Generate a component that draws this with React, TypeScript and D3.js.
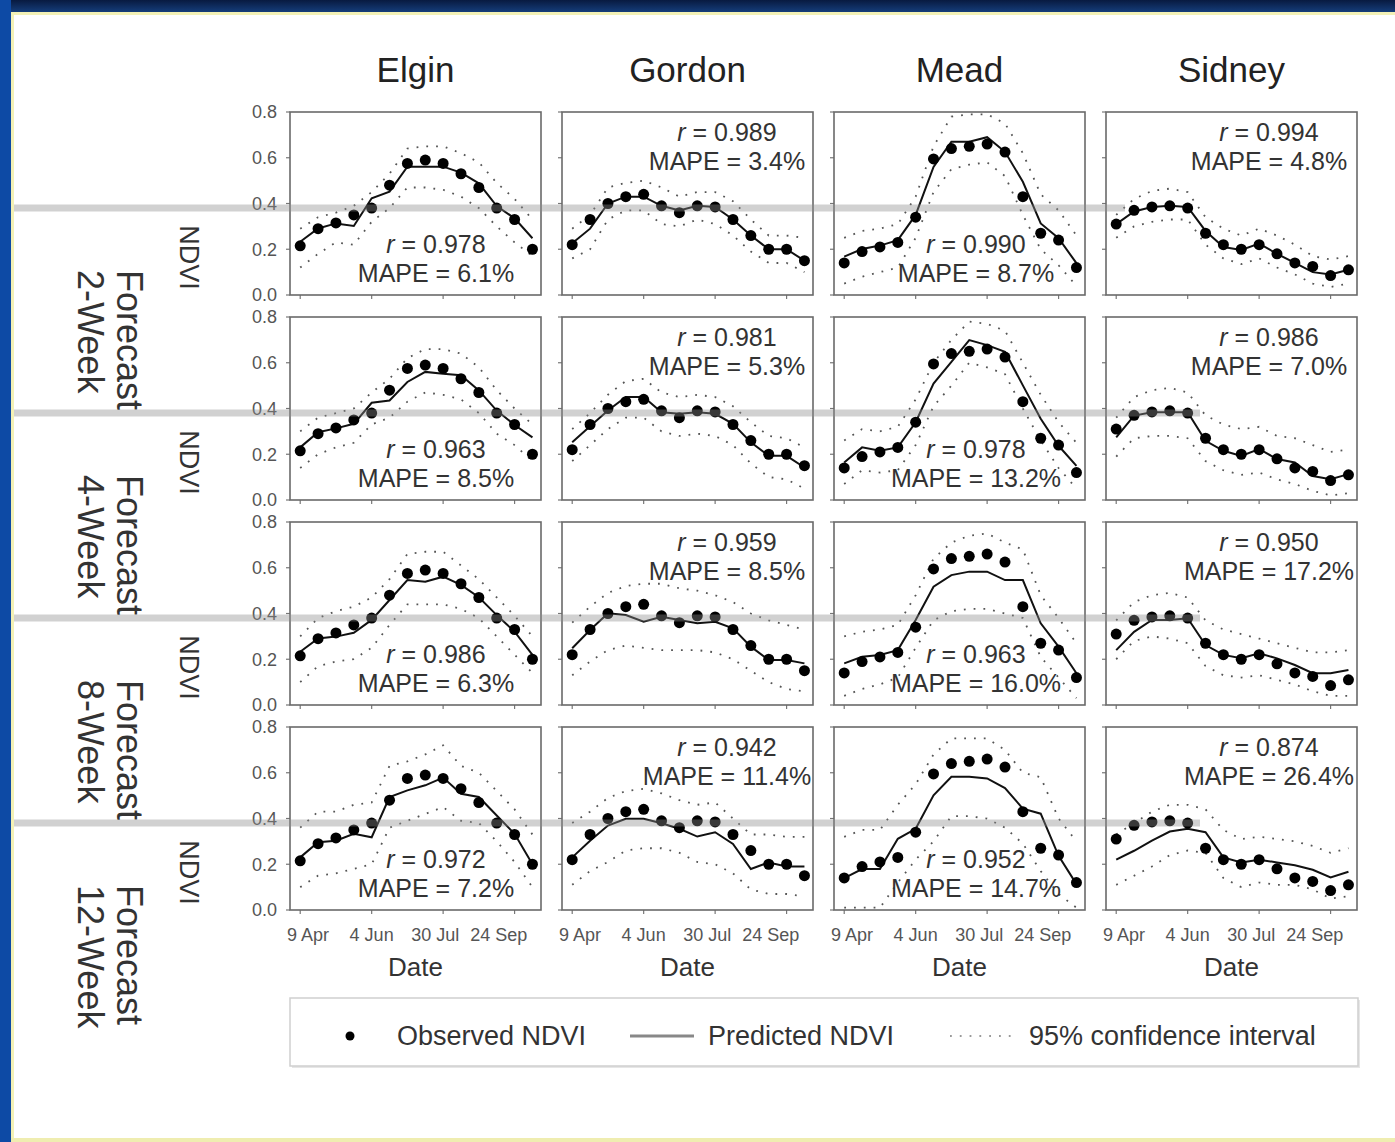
import React from "react";
import * as d3 from "d3";

// ---------- data ----------
const dateLabels = [
  "2007-04-09", "2007-04-23", "2007-05-07", "2007-05-21", "2007-06-04", "2007-06-18", "2007-07-02",
  "2007-07-16", "2007-07-30", "2007-08-13", "2007-08-27", "2007-09-10", "2007-09-24", "2007-10-08",
];
const tickDates = ["2007-04-09", "2007-06-04", "2007-07-30", "2007-09-24"];
const sites = ["Elgin", "Gordon", "Mead", "Sidney"];
const horizons = ["2-Week", "4-Week", "8-Week", "12-Week"];
const yTicks = [0, 0.2, 0.4, 0.6, 0.8];

// observed NDVI (same for every horizon)
const obsElgin = [0.215, 0.29, 0.315, 0.35, 0.38, 0.48, 0.575, 0.59, 0.575, 0.53, 0.47, 0.38, 0.33, 0.2];
const obsGordon = [0.22, 0.33, 0.4, 0.43, 0.44, 0.39, 0.36, 0.39, 0.385, 0.33, 0.26, 0.2, 0.2, 0.15];
const obsMead = [0.14, 0.19, 0.21, 0.23, 0.34, 0.595, 0.64, 0.65, 0.66, 0.625, 0.43, 0.27, 0.24, 0.12];
const obsSidney = [0.31, 0.37, 0.385, 0.39, 0.38, 0.27, 0.22, 0.2, 0.22, 0.18, 0.14, 0.125, 0.085, 0.11];

// 2-week forecast
const pred2Elgin = [0.233, 0.291, 0.313, 0.302, 0.423, 0.452, 0.561, 0.561, 0.561, 0.535, 0.488, 0.389, 0.335, 0.248];
const up2Elgin = [0.29, 0.34, 0.36, 0.39, 0.45, 0.53, 0.64, 0.65, 0.65, 0.62, 0.58, 0.49, 0.42, 0.33];
const lo2Elgin = [0.12, 0.18, 0.23, 0.22, 0.32, 0.38, 0.47, 0.47, 0.46, 0.43, 0.38, 0.3, 0.23, 0.17];
const pred2Gordon = [0.226, 0.29, 0.4, 0.43, 0.43, 0.39, 0.37, 0.39, 0.385, 0.33, 0.26, 0.2, 0.2, 0.15];
const up2Gordon = [0.29, 0.35, 0.47, 0.49, 0.5, 0.47, 0.43, 0.45, 0.45, 0.41, 0.33, 0.26, 0.26, 0.25];
const lo2Gordon = [0.16, 0.2, 0.33, 0.37, 0.37, 0.31, 0.3, 0.33, 0.31, 0.26, 0.19, 0.14, 0.14, 0.1];
const pred2Mead = [0.168, 0.201, 0.216, 0.24, 0.35, 0.56, 0.67, 0.67, 0.69, 0.626, 0.495, 0.313, 0.248, 0.139];
const up2Mead = [0.25, 0.28, 0.29, 0.31, 0.43, 0.65, 0.78, 0.79, 0.79, 0.75, 0.62, 0.44, 0.37, 0.26];
const lo2Mead = [0.05, 0.08, 0.1, 0.12, 0.25, 0.45, 0.55, 0.57, 0.58, 0.52, 0.35, 0.2, 0.13, 0.04];
const pred2Sidney = [0.31, 0.365, 0.385, 0.39, 0.385, 0.28, 0.21, 0.197, 0.225, 0.18, 0.14, 0.1, 0.09, 0.11];
const up2Sidney = [0.35, 0.42, 0.455, 0.465, 0.45, 0.34, 0.29, 0.26, 0.29, 0.26, 0.22, 0.17, 0.155, 0.17];
const lo2Sidney = [0.25, 0.3, 0.32, 0.33, 0.33, 0.22, 0.16, 0.135, 0.16, 0.12, 0.09, 0.05, 0.035, 0.05];

// 4-week forecast
const pred4Elgin = [0.23, 0.296, 0.313, 0.333, 0.425, 0.435, 0.516, 0.56, 0.552, 0.545, 0.479, 0.391, 0.328, 0.274];
const up4Elgin = [0.3, 0.36, 0.38, 0.4, 0.47, 0.53, 0.62, 0.66, 0.66, 0.64, 0.58, 0.48, 0.4, 0.33];
const lo4Elgin = [0.14, 0.2, 0.23, 0.25, 0.33, 0.36, 0.43, 0.47, 0.46, 0.44, 0.38, 0.29, 0.24, 0.17];
const pred4Gordon = [0.252, 0.322, 0.391, 0.45, 0.45, 0.384, 0.377, 0.384, 0.377, 0.333, 0.252, 0.193, 0.193, 0.142];
const up4Gordon = [0.31, 0.38, 0.46, 0.52, 0.53, 0.47, 0.45, 0.46, 0.45, 0.41, 0.34, 0.28, 0.27, 0.23];
const lo4Gordon = [0.17, 0.24, 0.31, 0.36, 0.36, 0.3, 0.28, 0.29, 0.28, 0.24, 0.16, 0.1, 0.09, 0.05];
const pred4Mead = [0.164, 0.23, 0.215, 0.23, 0.34, 0.509, 0.604, 0.699, 0.677, 0.648, 0.501, 0.355, 0.237, 0.149];
const up4Mead = [0.26, 0.31, 0.3, 0.32, 0.44, 0.6, 0.7, 0.78, 0.77, 0.74, 0.6, 0.46, 0.34, 0.25];
const lo4Mead = [0.07, 0.13, 0.12, 0.13, 0.24, 0.41, 0.5, 0.6, 0.58, 0.55, 0.4, 0.26, 0.14, 0.05];
const pred4Sidney = [0.274, 0.369, 0.384, 0.384, 0.384, 0.259, 0.215, 0.193, 0.223, 0.179, 0.164, 0.105, 0.091, 0.113];
const up4Sidney = [0.36, 0.45, 0.48, 0.49, 0.47, 0.37, 0.33, 0.31, 0.32, 0.28, 0.27, 0.24, 0.21, 0.22];
const lo4Sidney = [0.19, 0.27, 0.28, 0.28, 0.27, 0.17, 0.13, 0.11, 0.12, 0.09, 0.07, 0.04, 0.02, 0.03];

// 8-week forecast
const pred8Elgin = [0.233, 0.291, 0.299, 0.316, 0.372, 0.459, 0.546, 0.539, 0.561, 0.525, 0.471, 0.393, 0.321, 0.219];
const up8Elgin = [0.3, 0.38, 0.41, 0.43, 0.47, 0.55, 0.66, 0.67, 0.67, 0.61, 0.55, 0.47, 0.39, 0.3];
const lo8Elgin = [0.1, 0.17, 0.19, 0.2, 0.25, 0.35, 0.44, 0.44, 0.44, 0.42, 0.38, 0.3, 0.22, 0.14];
const pred8Gordon = [0.248, 0.328, 0.401, 0.393, 0.364, 0.386, 0.372, 0.357, 0.364, 0.335, 0.255, 0.197, 0.197, 0.182];
const up8Gordon = [0.36, 0.43, 0.49, 0.52, 0.53, 0.53, 0.51, 0.5, 0.48, 0.45, 0.4, 0.37, 0.35, 0.33];
const lo8Gordon = [0.13, 0.19, 0.24, 0.26, 0.25, 0.24, 0.24, 0.24, 0.23, 0.2, 0.15, 0.1, 0.07, 0.06];
const pred8Mead = [0.182, 0.211, 0.219, 0.24, 0.372, 0.517, 0.568, 0.583, 0.583, 0.546, 0.546, 0.357, 0.255, 0.139];
const up8Mead = [0.3, 0.32, 0.33, 0.35, 0.48, 0.64, 0.71, 0.74, 0.75, 0.71, 0.68, 0.48, 0.38, 0.27];
const lo8Mead = [0.04, 0.07, 0.09, 0.12, 0.25, 0.37, 0.41, 0.42, 0.42, 0.4, 0.38, 0.21, 0.12, 0.03];
const pred8Sidney = [0.24, 0.32, 0.372, 0.372, 0.379, 0.262, 0.219, 0.204, 0.226, 0.204, 0.175, 0.139, 0.139, 0.153];
const up8Sidney = [0.37, 0.45, 0.48, 0.49, 0.47, 0.37, 0.33, 0.31, 0.29, 0.27, 0.25, 0.23, 0.23, 0.24];
const lo8Sidney = [0.2, 0.28, 0.3, 0.29, 0.27, 0.17, 0.13, 0.12, 0.13, 0.11, 0.09, 0.06, 0.04, 0.04];

// 12-week forecast
const pred12Elgin = [0.23, 0.296, 0.303, 0.333, 0.318, 0.494, 0.523, 0.545, 0.579, 0.508, 0.494, 0.413, 0.333, 0.2];
const up12Elgin = [0.36, 0.43, 0.43, 0.46, 0.47, 0.63, 0.65, 0.68, 0.72, 0.63, 0.6, 0.52, 0.44, 0.33];
const lo12Elgin = [0.1, 0.15, 0.16, 0.18, 0.2, 0.36, 0.39, 0.42, 0.45, 0.39, 0.38, 0.3, 0.21, 0.1];
const pred12Gordon = [0.23, 0.303, 0.369, 0.399, 0.399, 0.379, 0.355, 0.321, 0.34, 0.289, 0.179, 0.208, 0.19, 0.19];
const up12Gordon = [0.38, 0.43, 0.49, 0.52, 0.53, 0.51, 0.48, 0.46, 0.47, 0.4, 0.33, 0.33, 0.32, 0.32];
const lo12Gordon = [0.11, 0.17, 0.21, 0.26, 0.27, 0.27, 0.25, 0.21, 0.2, 0.16, 0.09, 0.07, 0.07, 0.06];
const pred12Mead = [0.139, 0.179, 0.179, 0.311, 0.355, 0.501, 0.582, 0.582, 0.575, 0.533, 0.443, 0.421, 0.237, 0.113];
const up12Mead = [0.32, 0.35, 0.35, 0.46, 0.55, 0.68, 0.75, 0.75, 0.75, 0.7, 0.6, 0.58, 0.4, 0.3];
const lo12Mead = [0.01, 0.01, 0.01, 0.12, 0.22, 0.3, 0.41, 0.41, 0.4, 0.36, 0.29, 0.17, 0.07, 0.01];
const pred12Sidney = [0.22, 0.259, 0.303, 0.343, 0.355, 0.34, 0.23, 0.208, 0.22, 0.208, 0.196, 0.176, 0.142, 0.167];
const up12Sidney = [0.33, 0.38, 0.43, 0.46, 0.46, 0.44, 0.35, 0.31, 0.32, 0.31, 0.3, 0.28, 0.25, 0.27];
const lo12Sidney = [0.11, 0.15, 0.19, 0.24, 0.26, 0.25, 0.14, 0.1, 0.12, 0.11, 0.11, 0.09, 0.05, 0.06];

// statistics (rows: horizons, cols: sites)
const rValues = [
  [0.978, 0.989, 0.99, 0.994],
  [0.963, 0.981, 0.978, 0.986],
  [0.986, 0.959, 0.963, 0.95],
  [0.972, 0.942, 0.952, 0.874],
];
const mapeValues = [
  [6.1, 3.4, 8.7, 4.8],
  [8.5, 5.3, 13.2, 7.0],
  [6.3, 8.5, 16.0, 17.2],
  [7.2, 11.4, 14.7, 26.4],
];

const observedBySite = [obsElgin, obsGordon, obsMead, obsSidney];
const predicted = [
  [pred2Elgin, pred2Gordon, pred2Mead, pred2Sidney],
  [pred4Elgin, pred4Gordon, pred4Mead, pred4Sidney],
  [pred8Elgin, pred8Gordon, pred8Mead, pred8Sidney],
  [pred12Elgin, pred12Gordon, pred12Mead, pred12Sidney],
];
const upper = [
  [up2Elgin, up2Gordon, up2Mead, up2Sidney],
  [up4Elgin, up4Gordon, up4Mead, up4Sidney],
  [up8Elgin, up8Gordon, up8Mead, up8Sidney],
  [up12Elgin, up12Gordon, up12Mead, up12Sidney],
];
const lower = [
  [lo2Elgin, lo2Gordon, lo2Mead, lo2Sidney],
  [lo4Elgin, lo4Gordon, lo4Mead, lo4Sidney],
  [lo8Elgin, lo8Gordon, lo8Mead, lo8Sidney],
  [lo12Elgin, lo12Gordon, lo12Mead, lo12Sidney],
];

// ---------- layout ----------
const W = 1395;
const H = 1142;
const FONT = "'Liberation Sans', Arial, Helvetica, sans-serif";
const left0 = 290;
const top0 = 112;
const colStep = 272;
const rowStep = 205;
const panelW = 251;
const panelH = 183;
// annotation placement per site: "bottom" or "top" and center x inside panel
const annotPos = [
  { where: "bottom", cx: 146 },
  { where: "top", cx: 165 },
  { where: "bottom", cx: 142 },
  { where: "top", cx: 163 },
];
const bandEnd = [1125, 1200, 1200, 1200];

export default function App() {
  const parse = d3.utcParse("%Y-%m-%d");
  const dates = dateLabels.map((d) => parse(d) as Date);
  const ticks = tickDates.map((d) => parse(d) as Date);
  const DAY = 864e5;
  const t0 = dates[0].getTime();
  const x = d3
    .scaleUtc()
    .domain([new Date(t0 - 8 * DAY), new Date(t0 + 188.7 * DAY)])
    .range([0, panelW]);
  const y = d3.scaleLinear().domain([0, 0.8]).range([panelH, 0]);
  const line = d3
    .line<number>()
    .x((_, i) => x(dates[i]))
    .y((v) => y(v));
  const fmtTick = d3.utcFormat("%-d %b");
  const fmtY = d3.format(".1f");
  const fmtR = d3.format(".3f");
  const fmtM = d3.format(".1f");
  const labelX = (t: number) => 0.89 * (t - panelW / 2) - 4.85 + panelW / 2;

  const panels: JSX.Element[] = [];
  for (let r = 0; r < 4; r++) {
    for (let c = 0; c < 4; c++) {
      const px = left0 + c * colStep;
      const py = top0 + r * rowStep;
      const ap = annotPos[c];
      const rY = ap.where === "top" ? 20 : 132;
      panels.push(
        <g key={`p${r}${c}`} transform={`translate(${px},${py})`}>
          {/* y ticks */}
          {yTicks.map((v) => (
            <line key={`yt${v}`} x1={-4} x2={0} y1={y(v)} y2={y(v)} stroke="#777" strokeWidth={1.2} />
          ))}
          {c === 0 &&
            yTicks.map((v) => (
              <text
                key={`yl${v}`}
                x={-13}
                y={y(v)}
                dy="0.35em"
                textAnchor="end"
                fontSize={18}
                fill="#555"
                fontFamily={FONT}
              >
                {fmtY(v)}
              </text>
            ))}
          {/* x ticks */}
          {ticks.map((d, i) => (
            <line key={`xt${i}`} x1={x(d)} x2={x(d)} y1={panelH} y2={panelH + 4} stroke="#777" strokeWidth={1.2} />
          ))}
          {r === 3 &&
            ticks.map((d, i) => (
              <text
                key={`xl${i}`}
                x={labelX(x(d))}
                y={panelH + 31}
                textAnchor="middle"
                fontSize={18}
                fill="#555"
                fontFamily={FONT}
              >
                {fmtTick(d)}
              </text>
            ))}
          {r === 3 && (
            <text
              x={panelW / 2}
              y={panelH + 66}
              textAnchor="middle"
              fontSize={26}
              fill="#333"
              fontFamily={FONT}
            >
              Date
            </text>
          )}
          {/* CI */}
          <path
            d={line(upper[r][c]) || ""}
            fill="none"
            stroke="#555"
            strokeWidth={1.8}
            strokeDasharray="1.8 8"
          />
          <path
            d={line(lower[r][c]) || ""}
            fill="none"
            stroke="#555"
            strokeWidth={1.8}
            strokeDasharray="1.8 8"
          />
          {/* predicted */}
          <path d={line(predicted[r][c]) || ""} fill="none" stroke="#111" strokeWidth={2} />
          {/* observed */}
          {observedBySite[c].map((v, i) => (
            <circle key={`o${i}`} cx={x(dates[i])} cy={y(v)} r={5.5} fill="#000" />
          ))}
          {/* annotation */}
          <text
            x={ap.cx}
            y={rY}
            dy="0.35em"
            textAnchor="middle"
            fontSize={25}
            fill="#333"
            fontFamily={FONT}
          >
            <tspan fontStyle="italic">r</tspan>
            {` = ${fmtR(rValues[r][c])}`}
          </text>
          <text
            x={ap.cx}
            y={rY + 29}
            dy="0.35em"
            textAnchor="middle"
            fontSize={25}
            fill="#333"
            fontFamily={FONT}
          >
            {`MAPE = ${fmtM(mapeValues[r][c])}%`}
          </text>
          {/* frame */}
          <rect x={0} y={0} width={panelW} height={panelH} fill="none" stroke="#6a6a6a" strokeWidth={1.6} />
        </g>
      );
    }
  }

  return (
    <svg
      width={W}
      height={H}
      viewBox={`0 0 ${W} ${H}`}
      style={{ position: "absolute", left: 0, top: 0, display: "block" }}
    >
      <defs>
        <linearGradient id="topbar" x1="0" y1="0" x2="0" y2="1">
          <stop offset="0" stopColor="#081a40" />
          <stop offset="1" stopColor="#153d7a" />
        </linearGradient>
      </defs>
      <rect x={0} y={0} width={W} height={H} fill="#ffffff" />
      <rect x={0} y={0} width={W} height={12} fill="url(#topbar)" />
      <rect x={0} y={0} width={11} height={H} fill="#0d4aa5" />
      <rect x={11} y={12} width={W - 11} height={3} fill="#f3f1b6" />
      <rect x={11} y={12} width={3} height={H - 12} fill="#f3f1b6" />
      <rect x={11} y={H - 4} width={W - 11} height={4} fill="#efedb0" />

      {/* column titles */}
      {sites.map((s, c) => (
        <text
          key={s}
          x={left0 + c * colStep + panelW / 2}
          y={82}
          textAnchor="middle"
          fontSize={35}
          fill="#222"
          fontFamily={FONT}
        >
          {s}
        </text>
      ))}

      {/* row labels */}
      {horizons.map((h, r) => {
        const py = top0 + r * rowStep;
        return (
          <g key={h}>
            <text
              transform={`translate(180,${py + 145.5}) rotate(90)`}
              textAnchor="middle"
              fontSize={27}
              fill="#333"
              fontFamily={FONT}
            >
              NDVI
            </text>
            <text
              transform={`translate(117,${py + 158}) rotate(90)`}
              fontSize={36}
              fill="#333"
              fontFamily={FONT}
            >
              Forecast
            </text>
            <text
              transform={`translate(78,${py + 158}) rotate(90)`}
              fontSize={36}
              fill="#333"
              fontFamily={FONT}
            >
              {h}
            </text>
          </g>
        );
      })}

      {panels}

      {/* gray horizontal bands (screen artifact) */}
      {horizons.map((h, r) => (
        <rect
          key={`band${h}`}
          x={14}
          y={top0 + r * rowStep + 96 - 3.5}
          width={bandEnd[r] - 14}
          height={7}
          fill="#8c8c8c"
          opacity={0.4}
        />
      ))}

      {/* legend */}
      <rect x={292} y={1000} width={1068} height={68} fill="#e6e6e6" />
      <rect x={290} y={998} width={1068} height={68} fill="#fff" stroke="#cfcfcf" strokeWidth={1.5} />
      <circle cx={350} cy={1036} r={4.5} fill="#000" />
      <text x={397} y={1036} dy="0.35em" fontSize={27} fill="#333" fontFamily={FONT}>
        Observed NDVI
      </text>
      <line x1={630} x2={694} y1={1036} y2={1036} stroke="#888" strokeWidth={3} />
      <text x={708} y={1036} dy="0.35em" fontSize={27} fill="#333" fontFamily={FONT}>
        Predicted NDVI
      </text>
      <line x1={950} x2={1012} y1={1036} y2={1036} stroke="#999" strokeWidth={1.8} strokeDasharray="1.8 8" />
      <text x={1029} y={1036} dy="0.35em" fontSize={27} fill="#333" fontFamily={FONT}>
        95% confidence interval
      </text>
    </svg>
  );
}
